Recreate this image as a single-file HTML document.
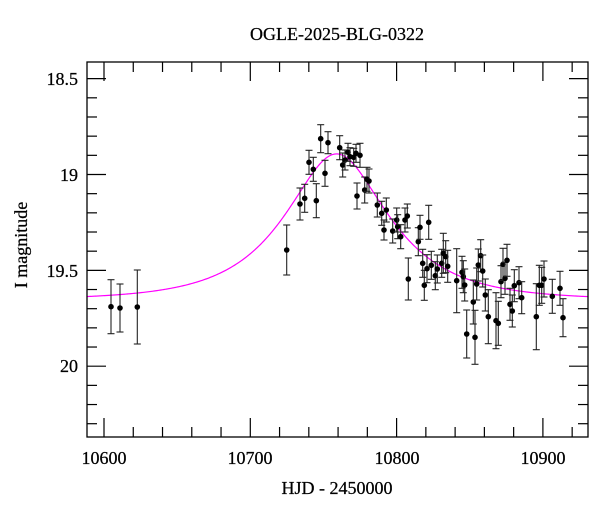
<!DOCTYPE html>
<html><head><meta charset="utf-8"><style>
html,body{margin:0;padding:0;background:#fff;}
svg{display:block;font-family:"Liberation Serif",serif;}
</style></head><body>
<svg id="s" width="600" height="512" xmlns="http://www.w3.org/2000/svg">
<rect x="0" y="0" width="600" height="512" fill="#fff"/>
<text x="337" y="40" font-size="18" text-anchor="middle" stroke="#000" stroke-width="0.25">OGLE-2025-BLG-0322</text>
<g id="ticks" stroke="#000" stroke-width="1.2"></g>
<path id="curve" fill="none" stroke="#ff00ff" stroke-width="1.2"/>
<g id="pts"></g>
<rect x="87" y="62" width="501" height="375" fill="none" stroke="#000" stroke-width="1.3"/>
<g font-size="18" text-anchor="end" stroke="#000" stroke-width="0.25">
<text x="78" y="85">18.5</text>
<text x="78" y="181">19</text>
<text x="78" y="277">19.5</text>
<text x="78" y="372">20</text>
</g>
<g font-size="18" text-anchor="middle" stroke="#000" stroke-width="0.25">
<text x="104" y="464">10600</text>
<text x="250" y="464">10700</text>
<text x="397" y="464">10800</text>
<text x="543" y="464">10900</text>
<text x="337" y="494">HJD - 2450000</text>
</g>
<text transform="translate(27,245) rotate(-90)" font-size="18" text-anchor="middle" stroke="#000" stroke-width="0.25">I magnitude</text>
</svg>
<script>
var L=87,R=588,T=62,B=437;
function X(t){return 104+(t-10600)*1.463;}
function Y(m){return 174.5+(m-19)*191.7;}
var g=document.getElementById('ticks'),h='';
for(var t=10580;t<=10940;t+=20){var x=X(t);if(x<L||x>R)continue;var maj=(t%100==0);var l=maj?19:10;
h+='<line x1="'+x+'" y1="'+B+'" x2="'+x+'" y2="'+(B-l)+'"/><line x1="'+x+'" y1="'+T+'" x2="'+x+'" y2="'+(T+l)+'"/>';}
for(var i=184;i<=204;i++){var m=i/10,y=Y(m);if(y<T||y>B)continue;var maj=(i%5==0);var l=maj?19:10;
h+='<line x1="'+L+'" y1="'+y+'" x2="'+(L+l)+'" y2="'+y+'"/><line x1="'+R+'" y1="'+y+'" x2="'+(R-l)+'" y2="'+y+'"/>';}
g.innerHTML=h;
var d='';for(var px=L;px<=R;px+=1){var t=10600+(px-104)/1.463;var u0=0.55,tE=58,t0=10759;var tau=(t-t0)/tE;var u2=u0*u0+tau*tau,u=Math.sqrt(u2);
var A=(u2+2)/(u*Math.sqrt(u2+4));var m=19.655-2.5*Math.log10(A);d+=(px==L?'M':'L')+px+','+Y(m).toFixed(2);}
document.getElementById('curve').setAttribute('d',d);
var P=[[111,306.7,27],[120,308,24],[137.3,307,37],[286.7,250,25],
[300,204,16],[304.7,198.3,14],[309,162.3,12],[313.3,169.3,12],[316.3,200.7,17],[320.7,138.7,14],[325,173.3,13],[328,142.7,11],
[339.7,147.7,12],[342.7,165,12],[345,160,10],[348,152.3,9],[350,156.7,9],[353.7,157.3,9],[356,153.3,9],[360,155.3,12],[357,196,13],
[364.7,190,13],[367,179.3,12],[369,181,12],[377.3,205,12],[381.7,213.3,12],[384,230,10],[386.3,210,12],[392.7,231,12],[396.7,220,12],
[397.7,226.7,12],[400.7,236.7,12],[405,220,12],[407.3,216,12],[408.3,279,21],[418.3,241.7,14],[420,227.3,12],[422.7,263.3,14],
[424.3,285.3,15],[427,268.7,14],[428.7,222.3,17],[431.3,265.3,14],[435.3,275.7,14],[437.3,269,14],[441.7,263.3,14],[443.3,253.3,20],
[445.7,256.7,16],[447.7,266.3,16],[456.7,280.7,32],[462,272.3,16],[463.3,276.7,16],[464.7,285,16],[466.7,334,24],[473.3,302,22],
[475,337.3,27],[476.7,284,16],[478.3,265,16],[480.7,255.7,16],[482.7,271,16],[485.3,295,16],[488.3,316.7,27],[496,320.7,28],
[498.3,323.3,22],[501,281.7,16],[503,264.3,16],[505,278.3,16],[507,260.3,16],[510,304.3,16],[512.3,311,16],[514.3,285.7,16],
[519,282.7,16],[521.7,297.7,16],[536.3,316.7,33],[539.3,285.3,20],[541.7,285.3,18],[544,279,18],[552.3,296.3,17],[560,288.3,17],[563,317.7,19]];
var s='';P.forEach(function(p){var x=p[0],y=p[1],e=p[2];
s+='<line x1="'+x+'" y1="'+(y-e)+'" x2="'+x+'" y2="'+(y+e)+'" stroke="#222" stroke-width="1.1"/>';
s+='<line x1="'+(x-3.5)+'" y1="'+(y-e)+'" x2="'+(x+3.5)+'" y2="'+(y-e)+'" stroke="#222" stroke-width="1.1"/>';
s+='<line x1="'+(x-3.5)+'" y1="'+(y+e)+'" x2="'+(x+3.5)+'" y2="'+(y+e)+'" stroke="#222" stroke-width="1.1"/>';
s+='<circle cx="'+x+'" cy="'+y+'" r="2.8" fill="#000"/>';});
document.getElementById('pts').innerHTML=s;
</script>
</body></html>
